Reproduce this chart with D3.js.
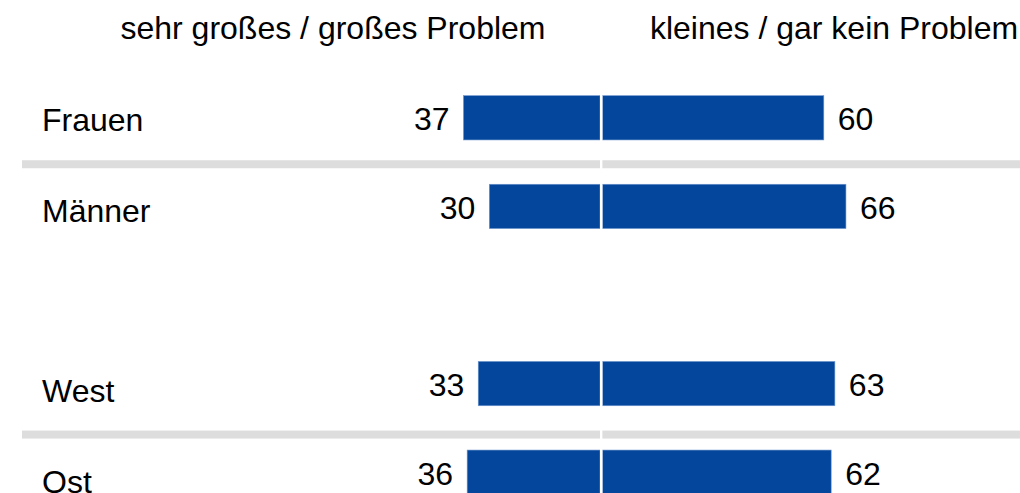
<!DOCTYPE html>
<html><head><meta charset="utf-8">
<script src="https://cdn.jsdelivr.net/npm/d3@7"></script>
<style>
html,body{margin:0;padding:0;background:#fff;}
svg{display:block;font-family:"Liberation Sans",Arial,sans-serif;}
</style></head>
<body>
<svg id="chart" width="1020" height="493"></svg>
<script>
const rows = ["Frauen", "Männer", "", "West", "Ost"];
const categories = ["Frauen", "Männer", "West", "Ost"];
const problemBig = [37, 30, 33, 36];
const problemSmall = [60, 66, 63, 62];
const headers = ["sehr großes / großes Problem", "kleines / gar kein Problem"];
const separatorsBefore = ["Männer", "Ost"];

const svg = d3.select("#chart");
const W = 1020, H = 493;
const cx = 601.2, gap = 1.2;
const fontSize = 32;
const blue = "#03469b";

const len = d3.scaleLinear().domain([0, 100]).range([0, 369]);
const y = d3.scaleBand().domain(rows).range([73.5, 516.5]).paddingInner(0.5).paddingOuter(0.25);
const yLabel = d3.scalePoint().domain(rows).range([119.7, 481]);

const data = categories.map((c, i) => ({cat: c, big: problemBig[i], small: problemSmall[i]}));

// separators
svg.selectAll("rect.sep").data(separatorsBefore).join("rect")
  .attr("class", "sep")
  .attr("x", 22).attr("width", W - 22)
  .attr("y", d => y(d) - (d === "Ost" ? 19.5 : 24))
  .attr("height", 8)
  .attr("fill", "#dddddd");

// headers
svg.append("text").attr("x", 333).attr("y", 39).attr("text-anchor", "middle")
  .attr("font-size", fontSize).attr("fill", "#000").text(headers[0]);
svg.append("text").attr("x", 834).attr("y", 39).attr("text-anchor", "middle")
  .attr("font-size", fontSize).attr("fill", "#000").text(headers[1]);

// bars left
svg.selectAll("rect.left").data(data).join("rect")
  .attr("class", "left")
  .attr("x", d => cx - gap - len(d.big))
  .attr("width", d => len(d.big))
  .attr("y", d => y(d.cat)).attr("height", y.bandwidth())
  .attr("fill", blue).attr("stroke", "#6f97cf").attr("stroke-width", 0.6);

svg.selectAll("rect.right").data(data).join("rect")
  .attr("class", "right")
  .attr("x", cx + gap)
  .attr("width", d => len(d.small))
  .attr("y", d => y(d.cat)).attr("height", y.bandwidth())
  .attr("fill", blue).attr("stroke", "#6f97cf").attr("stroke-width", 0.6);

// center white line
svg.append("rect").attr("x", cx - gap).attr("width", gap * 2)
  .attr("y", 80).attr("height", H - 80).attr("fill", "#fff");

// value labels
svg.selectAll("text.vl").data(data).join("text")
  .attr("class", "vl")
  .attr("x", d => cx - gap - len(d.big) - 14)
  .attr("y", d => y(d.cat) + y.bandwidth() / 2 + 1)
  .attr("dy", "0.36em").attr("text-anchor", "end")
  .attr("font-size", fontSize).attr("fill", "#000")
  .text(d => d.big);

svg.selectAll("text.vr").data(data).join("text")
  .attr("class", "vr")
  .attr("x", d => cx + gap + len(d.small) + 14)
  .attr("y", d => y(d.cat) + y.bandwidth() / 2 + 1)
  .attr("dy", "0.36em").attr("text-anchor", "start")
  .attr("font-size", fontSize).attr("fill", "#000")
  .text(d => d.small);

// category labels
svg.selectAll("text.cat").data(data).join("text")
  .attr("class", "cat")
  .attr("x", 42)
  .attr("y", d => yLabel(d.cat))
  .attr("dy", "0.36em")
  .attr("font-size", fontSize).attr("fill", "#000")
  .text(d => d.cat);
</script>
</body></html>
